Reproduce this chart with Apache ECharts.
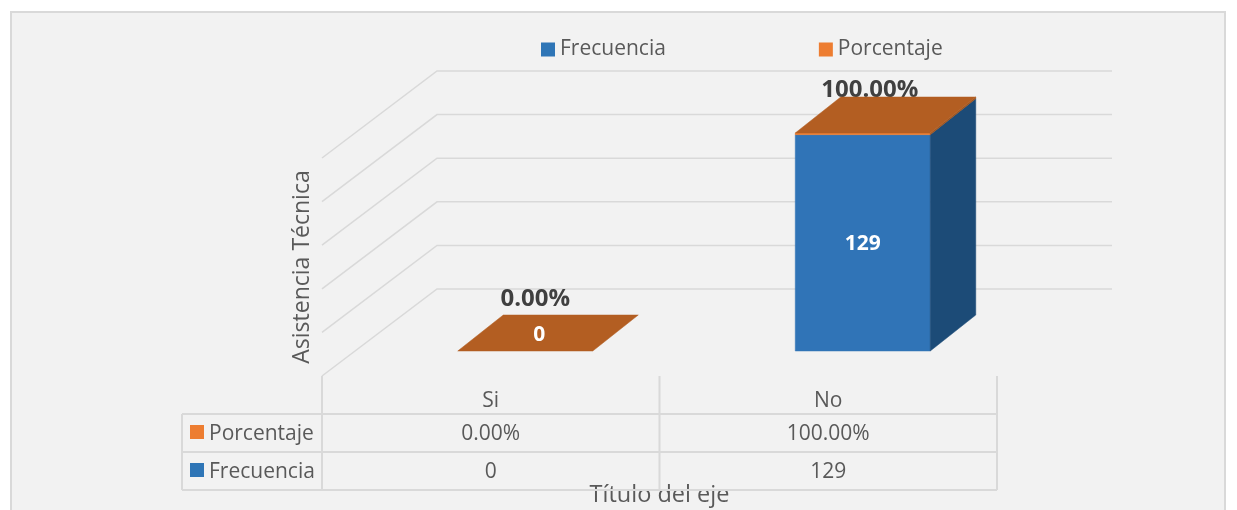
<!DOCTYPE html>
<html>
<head>
<meta charset="utf-8">
<style>html,body{margin:0;padding:0;background:#fff}#c{width:1237px;height:510px}</style>
<script src="https://cdn.jsdelivr.net/npm/echarts@6/dist/echarts.min.js"></script>
</head>
<body>
<div id="c"></div>
<script>
const categories = ['Si', 'No'];
const frecuencia = [0, 129];
const porcentaje = [0, 1];
const ticks = [0, 26, 52, 78, 104, 130];
const seriesNames = ['Frecuencia', 'Porcentaje'];
const axisTitleY = 'Asistencia Técnica';
const axisTitleX = 'Título del eje';

const FONT = '"Open Sans", "Noto Sans", sans-serif';
const GREY = '#595959', LINE = '#D9D9D9';
const BLUE = '#2E75B6', ORANGE = '#ED7D31';
const pct = v => (v * 100).toFixed(2) + '%';
const DEPTH = { wallX: 115, wallY: 87, nearX: 34.5, nearY: 25, farX: 80, farY: 61 };

function box(api) {
  const cat = api.value(0);
  const halfW = api.size([1, 0])[0] * 0.2;
  const cx = api.coord([cat, 0])[0] + DEPTH.nearX;
  return { l: cx - halfW, r: cx + halfW, dx: DEPTH.farX - DEPTH.nearX, dy: DEPTH.farY - DEPTH.nearY };
}
function faceY(api, v) { return api.coord([0, v])[1] - DEPTH.nearY; }
function poly(points, fill, stroke) {
  return { type: 'polygon', shape: { points }, style: { fill, stroke: stroke || fill, lineWidth: 0.5 } };
}
function solid(api, from, to, front, side, top) {
  const b = box(api), y0 = faceY(api, from), y1 = faceY(api, to);
  const children = [];
  if (to > from) {
    children.push(poly([[b.l, y0], [b.r, y0], [b.r, y1], [b.l, y1]], front));
    children.push(poly([[b.r, y0], [b.r + b.dx, y0 - b.dy], [b.r + b.dx, y1 - b.dy], [b.r, y1]], side));
  }
  if (top) children.push(poly([[b.l, y1], [b.r, y1], [b.r + b.dx, y1 - b.dy], [b.l + b.dx, y1 - b.dy]], top));
  return { type: 'group', children };
}
function label(x, y, text, font, fill) {
  return { type: 'text', x, y, style: { text, fill, font, align: 'center', verticalAlign: 'middle' } };
}
function segment(x1, y1, x2, y2) {
  return { type: 'line', shape: { x1, y1, x2, y2 }, style: { stroke: LINE, lineWidth: 2 } };
}

const rows = categories.map((c, i) => [i, frecuencia[i], porcentaje[i]]);

const option = {
  animation: false,
  backgroundColor: '#ffffff',
  textStyle: { fontFamily: FONT },
  graphic: [{
    type: 'rect', z: -10, silent: true,
    shape: { x: 11, y: 12, width: 1214, height: 510 },
    style: { fill: '#F2F2F2', stroke: LINE, lineWidth: 2 }
  }],
  legend: {
    data: seriesNames, left: 536, top: 34, icon: 'rect', itemWidth: 14, itemHeight: 14,
    itemGap: 153, selectedMode: false,
    textStyle: { color: GREY, fontSize: 21, fontFamily: FONT, padding: [0, 0, 0, 0] }
  },
  grid: { left: 322, right: 240, top: 158, bottom: 134, containLabel: false, outerBoundsMode: 'none' },
  xAxis: {
    type: 'category', data: categories,
    name: axisTitleX, nameLocation: 'center', nameGap: 107,
    nameTextStyle: { color: GREY, fontSize: 23.5, fontFamily: FONT },
    axisLine: { show: false }, axisTick: { show: false }, splitLine: { show: false },
    axisLabel: { color: GREY, fontSize: 21, margin: 15, fontFamily: FONT }
  },
  yAxis: {
    type: 'value', min: 0, max: 130, interval: 26,
    name: axisTitleY, nameLocation: 'center', nameGap: 8, nameRotate: 90,
    nameTextStyle: { color: GREY, fontSize: 23, fontFamily: FONT },
    axisLine: { show: false }, axisTick: { show: false },
    axisLabel: { show: false }, splitLine: { show: false }
  },
  series: [
    {
      type: 'custom', name: 'walls', silent: true, z: 1,
      data: ticks.map(t => [0, t]), encode: { x: 0, y: 1 },
      renderItem(params, api) {
        const cs = params.coordSys;
        const y = api.coord([0, api.value(1)])[1];
        return {
          type: 'polyline',
          shape: { points: [[cs.x, y], [cs.x + DEPTH.wallX, y - DEPTH.wallY], [cs.x + cs.width + DEPTH.wallX, y - DEPTH.wallY]] },
          style: { stroke: LINE, lineWidth: 1.5, fill: null }
        };
      }
    },
    {
      type: 'custom', name: 'table', silent: true, z: 1,
      data: [[0, 0]], encode: { x: 0, y: 1 },
      renderItem(params, api) {
        const cs = params.coordSys;
        const base = cs.y + cs.height;
        const left = cs.x - 140, right = cs.x + cs.width;
        const r0 = base + 38, r1 = base + 76, r2 = base + 114;
        const kids = [
          segment(left, r0, right, r0), segment(left, r1, right, r1), segment(left, r2, right, r2),
          segment(left, r0, left, r2),
          segment(cs.x, base, cs.x, r2),
          segment(cs.x + cs.width / 2, base, cs.x + cs.width / 2, r2),
          segment(right, base, right, r2)
        ];
        const font = '21px ' + FONT;
        const tableRows = [
          { name: seriesNames[1], color: ORANGE, y: base + 58, vals: porcentaje.map(pct) },
          { name: seriesNames[0], color: BLUE, y: base + 96, vals: frecuencia.map(String) }
        ];
        tableRows.forEach(r => {
          kids.push({ type: 'rect', shape: { x: left + 8, y: r.y - 9, width: 14, height: 14 }, style: { fill: r.color } });
          kids.push({ type: 'text', x: left + 27, y: r.y, style: { text: r.name, fill: GREY, font, align: 'left', verticalAlign: 'middle' } });
          r.vals.forEach((v, i) => kids.push(label(api.coord([i, 0])[0], r.y, v, font, GREY)));
        });
        return { type: 'group', children: kids };
      }
    },
    {
      type: 'custom', name: 'pctLabels', silent: true, z: 2,
      data: rows, encode: { x: 0, y: 1 },
      renderItem(params, api) {
        const b = box(api), total = api.value(1) + api.value(2);
        const lift = total === 0 ? 52 : 43, shift = total === 0 ? 10 : 7;
        return label((b.l + b.r) / 2 + shift, faceY(api, total) - lift, pct(api.value(2)), 'bold 24px ' + FONT, '#404040');
      }
    },
    {
      type: 'custom', name: seriesNames[0], silent: true, z: 3,
      itemStyle: { color: BLUE },
      data: rows, encode: { x: 0, y: 1 },
      renderItem(params, api) {
        return solid(api, 0, api.value(1), '#3074B7', '#1C4B77', null);
      }
    },
    {
      type: 'custom', name: seriesNames[1], silent: true, z: 4,
      itemStyle: { color: ORANGE },
      data: rows, encode: { x: 0, y: 1 },
      renderItem(params, api) {
        const from = api.value(1), to = from + api.value(2);
        return solid(api, from, to, ORANGE, '#9E5520', '#B35E22');
      }
    },
    {
      type: 'custom', name: 'valueLabels', silent: true, z: 5,
      data: rows, encode: { x: 0, y: 1 },
      renderItem(params, api) {
        const b = box(api), v = api.value(1), cx = (b.l + b.r) / 2;
        const y = v === 0 ? faceY(api, 0) - 16 : (faceY(api, 0) + faceY(api, v)) / 2 + 1;
        return label(v === 0 ? cx + 14 : cx, y, String(v), 'bold 21px ' + FONT, '#ffffff');
      }
    }
  ]
};
const chart = echarts.init(document.getElementById('c'), null, { renderer: 'canvas' });
chart.setOption(option);
</script>
</body>
</html>
